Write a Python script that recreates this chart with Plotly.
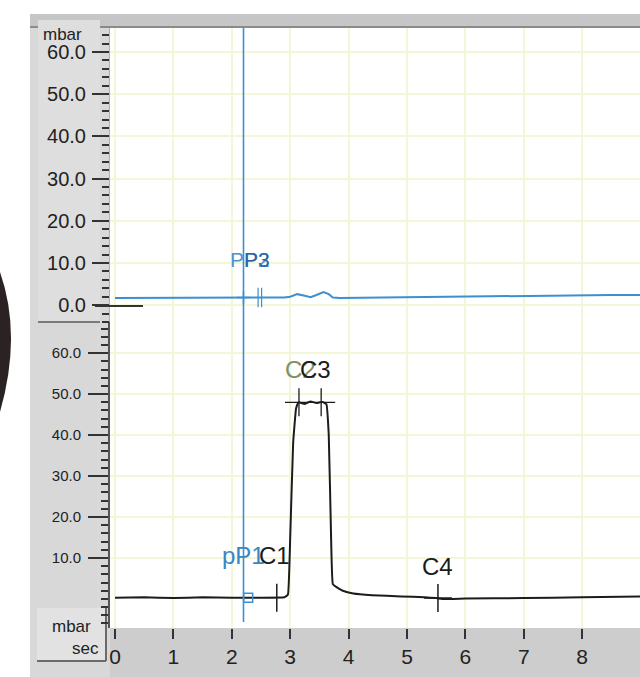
import plotly.graph_objects as go

# ---------------- data ----------------
# top channel (blue), time in sec, pressure in mbar
top_t = [0.0, 0.5, 1.0, 1.5, 2.0, 2.3, 2.6, 2.9, 3.0, 3.12, 3.25, 3.35, 3.45, 3.57, 3.66, 3.73, 3.85, 4.5, 5.5, 6.5, 7.5, 8.5, 9.0]
top_p = [1.7, 1.7, 1.8, 1.7, 1.8, 1.7, 1.8, 1.8, 2.0, 2.6, 2.2, 1.9, 2.4, 3.1, 2.6, 1.8, 1.7, 1.8, 2.0, 2.2, 2.3, 2.4, 2.4]

# bottom channel (black)
bot_t = [0.0, 0.5, 1.0, 1.5, 2.0, 2.5, 2.9, 2.96, 3.0, 3.05, 3.1, 3.14, 3.25, 3.35, 3.45, 3.55, 3.62, 3.66, 3.7, 3.73, 3.8, 3.9, 4.08, 4.4, 4.9, 5.3, 5.5, 5.6, 6.0, 7.0, 8.0, 9.0]
bot_p = [0.3, 0.4, 0.2, 0.4, 0.3, 0.3, 0.4, 1.0, 15.0, 38.0, 46.5, 48.0, 47.6, 48.2, 47.8, 48.1, 47.5, 40.0, 15.0, 3.6, 2.8, 2.0, 1.3, 0.9, 0.6, 0.4, 0.2, 0.0, 0.1, 0.2, 0.4, 0.6]

cursor_t = 2.2

# event markers
top_cross = dict(t=[2.2], p=[1.8])
top_ticks = dict(t=[2.45, 2.51], p=[1.8, 1.8])
pp1 = dict(t=[2.28], p=[0.3])
c1 = dict(t=[2.77], p=[0.3])
c23 = dict(t=[3.15, 3.53], p=[48.0, 48.0])
c4 = dict(t=[5.53], p=[0.2])

top_yticks = [0, 10, 20, 30, 40, 50, 60]
bot_yticks = [10, 20, 30, 40, 50, 60]
x_ticks = [0, 1, 2, 3, 4, 5, 6, 7, 8, 9]

# ---------------- geometry helpers (pixels -> paper) ----------------
L, R, T, B = 110, 640, 28, 628
W, H = 640, 677
def px(x):
    return (x - L) / (R - L)
def py(y):
    return (B - y) / (B - T)

BLUE = "#3d8fd0"
DARKBLUE = "#2c64a8"
BLACK = "#1c1c1c"
GRID = "#f5f5d8"

fig = go.Figure()

fig.add_trace(go.Scatter(x=top_t, y=top_p, xaxis="x", yaxis="y2", mode="lines",
                         line=dict(color=BLUE, width=2), hoverinfo="skip"))
fig.add_trace(go.Scatter(x=bot_t, y=bot_p, xaxis="x", yaxis="y", mode="lines",
                         line=dict(color=BLACK, width=2, shape="spline", smoothing=0.3), hoverinfo="skip"))

def mk(d, yaxis, symbol, size, color, width):
    fig.add_trace(go.Scatter(x=d["t"], y=d["p"], xaxis="x", yaxis=yaxis, mode="markers", hoverinfo="skip",
                             marker=dict(symbol=symbol, size=size, color=color,
                                         line=dict(color=color, width=width))))

mk(top_cross, "y2", "cross-thin-open", 9, BLUE, 1.5)
mk(top_ticks, "y2", "line-ns-open", 14, BLUE, 1.2)
mk(pp1, "y", "square-open", 9, BLUE, 1.5)
mk(c1, "y", "line-ns-open", 20, BLACK, 1.5)
mk(c23, "y", "cross-thin-open", 20, BLACK, 1.3)
mk(c4, "y", "cross-thin-open", 20, BLACK, 1.5)

shapes = []
# gray instrument frame
shapes.append(dict(type="rect", xref="paper", yref="paper", x0=px(30), x1=px(L), y0=py(H), y1=py(14),
                   fillcolor="#d8d8d8", line=dict(width=0), layer="below"))
shapes.append(dict(type="rect", xref="paper", yref="paper", x0=px(30), x1=px(W), y0=py(14), y1=py(T),
                   fillcolor="#c6c6c6", line=dict(width=0), layer="below"))
shapes.append(dict(type="line", xref="paper", yref="paper", x0=px(30), x1=px(W), y0=py(T - 1), y1=py(T - 1),
                   line=dict(color="#8a8a8a", width=2), layer="below"))
shapes.append(dict(type="rect", xref="paper", yref="paper", x0=px(L), x1=px(W), y0=py(H), y1=py(B),
                   fillcolor="#cdcdcd", line=dict(width=0), layer="below"))
# label boxes
shapes.append(dict(type="rect", xref="paper", yref="paper", x0=px(38), x1=px(100), y0=py(322), y1=py(20),
                   fillcolor="#dedede", line=dict(width=0), layer="below"))
shapes.append(dict(type="line", xref="paper", yref="paper", x0=px(38), x1=px(100), y0=py(322), y1=py(322),
                   line=dict(color="#7a7a7a", width=2), layer="below"))
shapes.append(dict(type="rect", xref="paper", yref="paper", x0=px(37), x1=px(106), y0=py(661), y1=py(608),
                   fillcolor="#e2e2e2", line=dict(width=0), layer="below"))
shapes.append(dict(type="line", xref="paper", yref="paper", x0=px(37), x1=px(106), y0=py(661), y1=py(661),
                   line=dict(color="#6a6a6a", width=2), layer="below"))
shapes.append(dict(type="line", xref="paper", yref="paper", x0=px(106), x1=px(106), y0=py(661), y1=py(608),
                   line=dict(color="#6a6a6a", width=2), layer="below"))
# dark object at the left edge of the scan
shapes.append(dict(type="path", xref="paper", yref="paper",
                   path=f"M {px(0)},{py(272)} Q {px(22)},{py(335)} {px(0)},{py(412)} Z",
                   fillcolor="#2b2323", line=dict(width=0), layer="above"))
# zero reference stub for the top channel
shapes.append(dict(type="line", xref="paper", yref="paper", x0=px(95), x1=px(143), y0=py(306), y1=py(306),
                   line=dict(color="#333333", width=2), layer="above"))
# cursor line
shapes.append(dict(type="line", xref="x", yref="paper", x0=cursor_t, x1=cursor_t, y0=py(622), y1=1,
                   line=dict(color=BLUE, width=1.6), layer="above"))

ann = []
def lab(text, x, y, yref, color, size):
    ann.append(dict(text=text, x=x, y=y, xref="x", yref=yref, xanchor="left", yanchor="middle",
                    showarrow=False, font=dict(family="Liberation Sans, Arial", size=size, color=color)))

lab("PP2", 1.93, 10.7, "y2", "#4d94cf", 21)
lab("P3", 2.17, 10.7, "y2", DARKBLUE, 21)
lab("pP1", 1.80, 10.7, "y", "#3a86c4", 24)
lab("C1", 2.43, 10.7, "y", BLACK, 24)
lab("C2", 2.88, 56.0, "y", "#7f8f6a", 24)
lab("C3", 3.13, 56.0, "y", BLACK, 24)
lab("C4", 5.22, 8.0, "y", BLACK, 24)

# axis unit labels
def plab(text, x, y, size, xanchor="left"):
    ann.append(dict(text=text, x=px(x), y=py(y), xref="paper", yref="paper", xanchor=xanchor, yanchor="middle",
                    showarrow=False, font=dict(family="Liberation Sans, Arial", size=size, color="#222222")))

plab("mbar", 41, 34, 17)
plab("mbar", 93, 626, 17, "right")
plab("sec", 101, 648, 17, "right")

axis_font = dict(family="Liberation Sans, Arial", color="#222222")

fig.update_layout(
    width=W, height=H,
    margin=dict(l=L, r=W - R, t=T, b=H - B, pad=0),
    paper_bgcolor="white",
    plot_bgcolor="white",
    showlegend=False,
    shapes=shapes,
    annotations=ann,
    xaxis=dict(domain=[0, 1], anchor="y", range=[-0.086, 8.99], tickvals=x_ticks,
               ticktext=[str(v) for v in x_ticks],
               ticks="outside", ticklen=10, tickwidth=2, tickcolor="#333333",
               tickfont=dict(family="Liberation Sans Narrow, Liberation Sans, Arial", size=21, color="#222222"),
               showgrid=True, gridcolor=GRID, gridwidth=1.5, zeroline=False, showline=False),
    yaxis=dict(domain=[0, 0.51], anchor="x", range=[-7.1, 67.6], tickvals=bot_yticks,
               ticktext=[f"{v:.1f}" for v in bot_yticks],
               ticks="outside", ticklen=20, tickwidth=2, tickcolor="#333333", ticklabelstandoff=4,
               tickfont=dict(size=15, **axis_font),
               minor=dict(tickmode="linear", tick0=0, dtick=2, ticks="outside", ticklen=7, tickwidth=2,
                          tickcolor="#333333", showgrid=False),
               showgrid=True, gridcolor=GRID, gridwidth=1.5, zeroline=False,
               showline=True, linecolor="#555555", linewidth=2),
    yaxis2=dict(domain=[0.51, 1], anchor="x", range=[-4.0, 65.7], tickvals=top_yticks,
                ticktext=[f"{v:.1f}" for v in top_yticks],
                ticks="outside", ticklen=17, tickwidth=2, tickcolor="#333333", ticklabelstandoff=2,
                tickfont=dict(size=20, **axis_font),
                minor=dict(tickmode="linear", tick0=0, dtick=2, ticks="outside", ticklen=7, tickwidth=2,
                           tickcolor="#333333", showgrid=False),
                showgrid=True, gridcolor=GRID, gridwidth=1.5, zeroline=False,
                showline=True, linecolor="#b0b0b0", linewidth=1),
)

fig.write_html("out.html", config={"displayModeBar": False},
               post_script="document.body.style.margin='0';")
